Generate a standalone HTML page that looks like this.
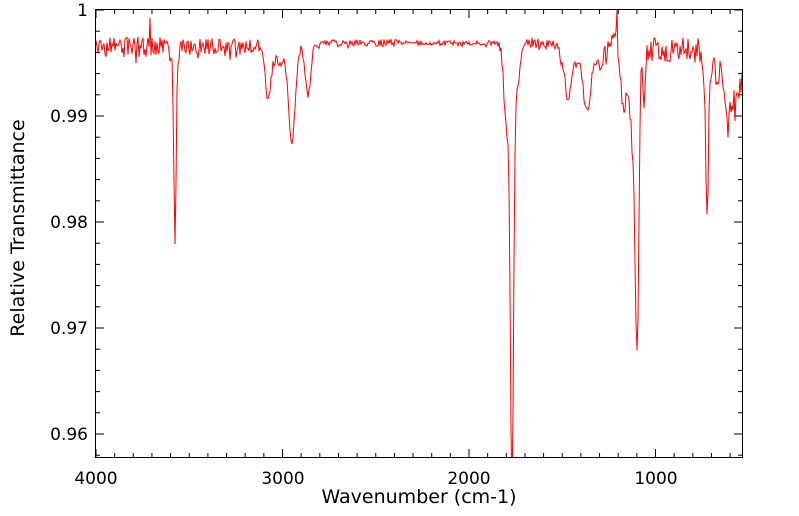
<!DOCTYPE html>
<html><head><meta charset="utf-8"><style>
html,body{margin:0;padding:0;background:#fff;overflow:hidden;width:799px;height:516px;}
svg{display:block;font-family:"DejaVu Sans","Liberation Sans",sans-serif;}
</style></head><body>
<svg id="s" width="799" height="516" xmlns="http://www.w3.org/2000/svg">
<defs><clipPath id="c"><rect x="96" y="10" width="646" height="447"/></clipPath></defs>
<rect x="0" y="0" width="799" height="516" fill="#fff"/>
<g id="ticks" stroke="#000" stroke-width="1"></g>
<path id="p" clip-path="url(#c)" fill="none" stroke="#ff0000" stroke-width="1"/>
<rect x="95.5" y="9.5" width="647" height="448" fill="none" stroke="#000" stroke-width="1"/>
<g font-size="17" fill="#000">
<text x="96" y="484" text-anchor="middle">4000</text>
<text x="283" y="484" text-anchor="middle">3000</text>
<text x="469" y="484" text-anchor="middle">2000</text>
<text x="656" y="484" text-anchor="middle">1000</text>
<text x="88" y="16" text-anchor="end">1</text>
<text x="88" y="122" text-anchor="end">0.99</text>
<text x="88" y="228" text-anchor="end">0.98</text>
<text x="88" y="334" text-anchor="end">0.97</text>
<text x="88" y="440" text-anchor="end">0.96</text>
<text x="419" y="503" text-anchor="middle" font-size="19">Wavenumber (cm-1)</text>
<text transform="translate(24,228) rotate(-90)" text-anchor="middle" font-size="19">Relative Transmittance</text>
</g>
</svg>
<script>
(function(){
var t=document.getElementById('ticks'),h='';
for(var w=4000;w>=540;w-=100){var x=96+(4000-w)*0.1865;var L=(w%1000==0)?8:4;
h+='<line x1="'+x+'" y1="457" x2="'+x+'" y2="'+(457-L)+'"/><line x1="'+x+'" y1="10" x2="'+x+'" y2="'+(10+L)+'"/>';}
for(var i=0;i<=21;i++){var y=10+i*21.2;if(y>457)break;var L=(i%5==0)?8:4;
h+='<line x1="96" y1="'+y+'" x2="'+(96+L)+'" y2="'+y+'"/><line x1="742" y1="'+y+'" x2="'+(742-L)+'" y2="'+y+'"/>';}
t.innerHTML=h;
var st=2463534242;
function r(){st^=st<<13;st>>>=0;st^=st>>>17;st^=st<<5;st>>>=0;return st/4294967296*2-1;}
function base(x){
 if(x<320)return 47;
 if(x<500)return 43;
 if(x<525)return 43;
 if(x<560)return 42+(x-525)*0.1;
 if(x<600)return 62;
 if(x<617)return 62-(x-600)*1.2;
 if(x<640)return 48;
 if(x<700)return 50;
 if(x<715)return 55;
 return 72+(x-715)*0.4;}
function amp(x){
 if(x<170)return 10;if(x<260)return 8;if(x<320)return 5;if(x<400)return 3.5;if(x<500)return 2.5;
 if(x<560)return 5;if(x<600)return 4;return 13;}
var dips=[[175,178,1.6],[175,18,4],[268,50,4],[292,92,4.5],[280,15,9],[308,50,3.5],
[512,420,2.3],[507,90,4],[517,40,4],[568,40,3.5],[587,50,4.5],[624,50,3],[637,255,2.5],[633,90,5],
[644,50,2],[620,30,2],[707,130,1.8],[707,30,5],[728,50,3],[735,20,4]];
var d='';
for(var x=96;x<=743;x+=1){
 var n=r();
 var y=base(x)+n*amp(x);
 if(r()>0.85)y+=amp(x)*0.8;
 for(var k=0;k<dips.length;k++){var q=(x-dips[k][0])/dips[k][2];y+=dips[k][1]*Math.exp(-q*q);}
 if(x==617)y=10;
 if(x==150)y=18;
 d+=(d?'L':'M')+x+' '+y.toFixed(1);}
document.getElementById('p').setAttribute('d',d);
})();
</script>
</body></html>
